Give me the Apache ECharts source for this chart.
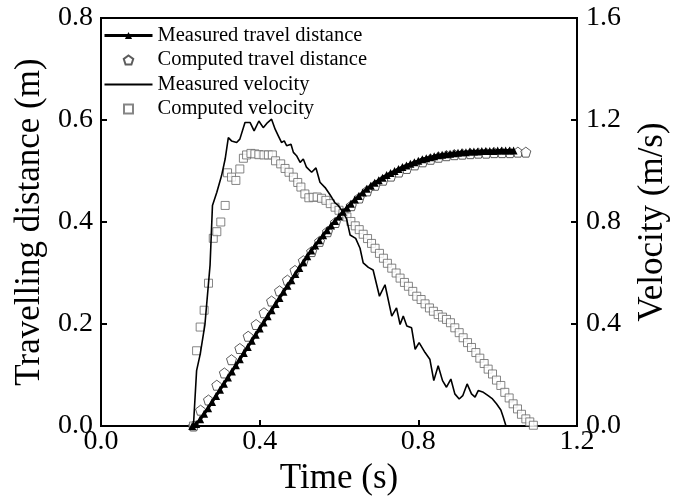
<!DOCTYPE html>
<html>
	<head>
		<meta charset="utf-8">
		<title>Travel distance and velocity</title>
		<script type="text/javascript" src="https://cdn.jsdelivr.net/npm/echarts@6/dist/echarts.min.js"></script>
		<style>
			html, body { margin: 0; padding: 0; background: #fff; }
			#main { width: 681px; height: 501px; }
		</style>
	</head>
	<body>
		<div id="main"></div>
		<script type="text/javascript">
			// 实测位移 (m)
			var mdTime = [0.23, 0.24, 0.25, 0.26, 0.27, 0.28, 0.29, 0.30, 0.31, 0.32, 0.33, 0.34, 0.35, 0.36, 0.37, 0.38, 0.39, 0.40,
				0.41, 0.42, 0.43, 0.44, 0.45, 0.46, 0.47, 0.48, 0.49, 0.50, 0.51, 0.52, 0.53, 0.54, 0.55, 0.56, 0.57, 0.58, 0.59, 0.60,
				0.61, 0.62, 0.63, 0.64, 0.65, 0.66, 0.67, 0.68, 0.69, 0.70, 0.71, 0.72, 0.73, 0.74, 0.75, 0.76, 0.77, 0.78, 0.79, 0.80,
				0.81, 0.82, 0.83, 0.84, 0.85, 0.86, 0.87, 0.88, 0.89, 0.90, 0.91, 0.92, 0.93, 0.94, 0.95, 0.96, 0.97, 0.98, 0.99, 1.00,
				1.01, 1.02, 1.03, 1.04];
			var mdValue = [0.000, 0.004, 0.013, 0.024, 0.035, 0.047, 0.059, 0.071, 0.083, 0.095, 0.107, 0.119, 0.131, 0.143, 0.155, 0.167, 0.179, 0.191,
				0.203, 0.215, 0.227, 0.239, 0.251, 0.263, 0.275, 0.286, 0.298, 0.310, 0.321, 0.333, 0.344, 0.354, 0.364, 0.374, 0.384, 0.393, 0.402, 0.411,
				0.420, 0.428, 0.436, 0.444, 0.451, 0.458, 0.465, 0.471, 0.477, 0.482, 0.487, 0.492, 0.496, 0.500, 0.504, 0.508, 0.511, 0.514, 0.517, 0.520,
				0.523, 0.525, 0.527, 0.529, 0.531, 0.532, 0.533, 0.534, 0.535, 0.536, 0.537, 0.537, 0.538, 0.538, 0.538, 0.539, 0.539, 0.539, 0.539, 0.540,
				0.540, 0.540, 0.540, 0.540];

			// 计算位移 (m)
			var cdTime = [0.233, 0.251, 0.271, 0.292, 0.311, 0.329, 0.350, 0.371, 0.391, 0.411, 0.430, 0.450, 0.470, 0.489, 0.510,
				0.531, 0.551, 0.571, 0.591, 0.611, 0.631, 0.651, 0.671, 0.691, 0.711, 0.731, 0.751, 0.771, 0.791, 0.811, 0.831,
				0.851, 0.871, 0.891, 0.911, 0.931, 0.951, 0.971, 0.991, 1.011, 1.031, 1.051, 1.071];
			var cdValue = [0.000, 0.031, 0.051, 0.080, 0.104, 0.130, 0.152, 0.176, 0.199, 0.222, 0.245, 0.265, 0.286, 0.305, 0.324,
				0.342, 0.362, 0.381, 0.399, 0.416, 0.432, 0.447, 0.461, 0.472, 0.482, 0.490, 0.498, 0.505, 0.512, 0.518, 0.523,
				0.527, 0.530, 0.532, 0.533, 0.534, 0.535, 0.535, 0.536, 0.536, 0.536, 0.537, 0.537];

			// 实测速度 (m/s)
			var mvTime = [0.233, 0.241, 0.250, 0.262, 0.275, 0.281, 0.292, 0.304, 0.313, 0.321, 0.329, 0.342, 0.350, 0.363, 0.376,
				0.386, 0.398, 0.409, 0.420, 0.430, 0.439, 0.447, 0.455, 0.462, 0.468, 0.479, 0.485, 0.493, 0.502, 0.510, 0.518,
				0.531, 0.542, 0.552, 0.565, 0.577, 0.590, 0.598, 0.607, 0.619, 0.628, 0.642, 0.653, 0.661, 0.674, 0.686, 0.702,
				0.716, 0.733, 0.745, 0.754, 0.762, 0.771, 0.783, 0.792, 0.802, 0.817, 0.829, 0.839, 0.850, 0.861, 0.871, 0.882,
				0.892, 0.903, 0.912, 0.923, 0.934, 0.943, 0.951, 0.964, 0.976, 0.987, 0.997, 1.008, 1.014, 1.021];
			var mvValue = [0.000, 0.217, 0.281, 0.398, 0.632, 0.865, 0.917, 0.982, 1.047, 1.131, 1.118, 1.112, 1.125, 1.190, 1.190,
				1.157, 1.196, 1.170, 1.190, 1.203, 1.164, 1.138, 1.112, 1.118, 1.099, 1.105, 1.073, 1.060, 1.034, 1.047, 1.015,
				0.995, 1.012, 0.956, 0.935, 0.908, 0.875, 0.865, 0.846, 0.813, 0.749, 0.736, 0.697, 0.640, 0.622, 0.612, 0.509,
				0.554, 0.431, 0.463, 0.398, 0.431, 0.392, 0.385, 0.301, 0.327, 0.288, 0.262, 0.178, 0.236, 0.178, 0.152, 0.184,
				0.126, 0.106, 0.119, 0.165, 0.126, 0.113, 0.139, 0.132, 0.119, 0.106, 0.087, 0.063, 0.035, 0.000];

			// 计算速度 (m/s)
			var cvTime = [0.233, 0.241, 0.250, 0.260, 0.271, 0.283, 0.292, 0.302, 0.313, 0.319, 0.329, 0.340, 0.350, 0.359, 0.367,
				0.378, 0.388, 0.398, 0.411, 0.422, 0.432, 0.440, 0.453, 0.464, 0.474, 0.485, 0.496, 0.504, 0.514, 0.524, 0.535,
				0.545, 0.556, 0.567, 0.578, 0.590, 0.600, 0.610, 0.620, 0.630, 0.641, 0.651, 0.661, 0.672, 0.682, 0.691, 0.702,
				0.712, 0.722, 0.733, 0.744, 0.754, 0.765, 0.775, 0.786, 0.796, 0.807, 0.817, 0.828, 0.838, 0.850, 0.861, 0.871,
				0.881, 0.892, 0.903, 0.913, 0.924, 0.934, 0.945, 0.955, 0.966, 0.976, 0.987, 0.997, 1.008, 1.018, 1.029, 1.039,
				1.050, 1.060, 1.071, 1.081, 1.090];
			var cvValue = [0.000, 0.295, 0.388, 0.454, 0.560, 0.736, 0.762, 0.800, 0.865, 0.993, 0.976, 0.963, 1.008, 1.050, 1.063,
				1.069, 1.067, 1.064, 1.063, 1.063, 1.063, 1.040, 1.028, 1.010, 0.995, 0.976, 0.955, 0.937, 0.910, 0.895, 0.897,
				0.898, 0.893, 0.885, 0.872, 0.858, 0.846, 0.833, 0.820, 0.802, 0.785, 0.770, 0.752, 0.735, 0.716, 0.697, 0.677,
				0.658, 0.638, 0.619, 0.600, 0.580, 0.563, 0.548, 0.528, 0.509, 0.496, 0.479, 0.463, 0.450, 0.437, 0.427, 0.418,
				0.405, 0.385, 0.366, 0.346, 0.327, 0.308, 0.288, 0.266, 0.245, 0.223, 0.204, 0.180, 0.159, 0.132, 0.110, 0.087,
				0.067, 0.046, 0.028, 0.016, 0.003];

			var xTicks = [0.0, 0.4, 0.8, 1.2];
			var leftTicks = [0.0, 0.2, 0.4, 0.6, 0.8];
			var rightTicks = [0.0, 0.4, 0.8, 1.2, 1.6];

			function pairs(t, v) {
				return t.map(function(x, i) { return [x, v[i]]; });
			}

			var serif = 'Liberation Serif';
			var pentagon = 'path://M0,-10L9.51,-3.09L5.88,8.09L-5.88,8.09L-9.51,-3.09Z';
			var square = 'path://M0,0H10V10H0Z';

			var option = {
				animation: false,
				backgroundColor: '#fff',
				textStyle: { fontFamily: serif, color: '#000' },
				grid: {
					left: 101, right: 104, top: 18, bottom: 72,
					show: true, borderColor: '#000', borderWidth: 2
				},
				legend: {
					orient: 'vertical',
					left: 98,
					top: 20,
					itemWidth: 48,
					itemHeight: 9,
					itemGap: 3.5,
					symbolKeepAspect: true,
					textStyle: { fontFamily: serif, fontSize: 20.5, lineHeight: 20, color: '#000' },
					data: [
						{ name: 'Measured travel distance', lineStyle: { width: 3, color: '#000' } },
						{ name: 'Computed travel distance' },
						{ name: 'Measured velocity', itemStyle: { opacity: 0 } },
						{ name: 'Computed velocity', icon: square }
					]
				},
				xAxis: {
					type: 'value',
					min: xTicks[0], max: xTicks[xTicks.length - 1], interval: 0.4,
					name: 'Time (s)', nameLocation: 'middle', nameGap: 35,
					nameTextStyle: { fontFamily: serif, fontSize: 35, color: '#000' },
					axisLine: { lineStyle: { color: '#000', width: 2 } },
					axisTick: { inside: true, length: 6, lineStyle: { color: '#000', width: 2 } },
					axisLabel: { margin: 2, fontFamily: serif, fontSize: 28, color: '#000', formatter: function(v) { return v.toFixed(1); } },
					splitLine: { show: false }
				},
				yAxis: [{
					type: 'value',
					min: leftTicks[0], max: leftTicks[leftTicks.length - 1], interval: 0.2,
					name: 'Travelling distance (m)', nameLocation: 'middle', nameGap: 54,
					nameTextStyle: { fontFamily: serif, fontSize: 35, color: '#000' },
					axisLine: { show: true, lineStyle: { color: '#000', width: 2 } },
					axisTick: { show: true, inside: true, length: 6, lineStyle: { color: '#000', width: 2 } },
					axisLabel: { margin: 8, fontFamily: serif, fontSize: 28, color: '#000', formatter: function(v) { return v.toFixed(1); } },
					splitLine: { show: false }
				}, {
					type: 'value',
					position: 'right',
					min: rightTicks[0], max: rightTicks[rightTicks.length - 1], interval: 0.4,
					name: 'Velocity (m/s)', nameLocation: 'middle', nameGap: 58,
					nameTextStyle: { fontFamily: serif, fontSize: 35, color: '#000' },
					axisLine: { show: true, lineStyle: { color: '#000', width: 2 } },
					axisTick: { show: true, inside: true, length: 6, lineStyle: { color: '#000', width: 2 } },
					axisLabel: { margin: 9, fontFamily: serif, fontSize: 28, color: '#000', formatter: function(v) { return v.toFixed(1); } },
					splitLine: { show: false }
				}],
				series: [{
					name: 'Measured travel distance',
					type: 'line',
					yAxisIndex: 0,
					data: pairs(mdTime, mdValue),
					symbol: 'triangle',
					symbolSize: 8,
					showAllSymbol: true,
					lineStyle: { color: '#000', width: 3 },
					itemStyle: { color: '#000' }
				}, {
					name: 'Computed travel distance',
					type: 'scatter',
					yAxisIndex: 0,
					data: pairs(cdTime, cdValue),
					symbol: pentagon,
					symbolSize: 10,
					itemStyle: { color: '#fff', borderColor: '#333', borderWidth: 1 }
				}, {
					name: 'Measured velocity',
					type: 'line',
					yAxisIndex: 1,
					data: pairs(mvTime, mvValue),
					symbol: 'none',
					lineStyle: { color: '#000', width: 1.6 },
					itemStyle: { color: '#000' }
				}, {
					name: 'Computed velocity',
					type: 'scatter',
					yAxisIndex: 1,
					data: pairs(cvTime, cvValue),
					symbol: 'rect',
					symbolSize: 8,
					itemStyle: { color: '#fff', borderColor: '#666', borderWidth: 1 }
				}]
			};

			var chart = echarts.init(document.getElementById('main'));
			chart.setOption(option);
		</script>
	</body>
</html>
